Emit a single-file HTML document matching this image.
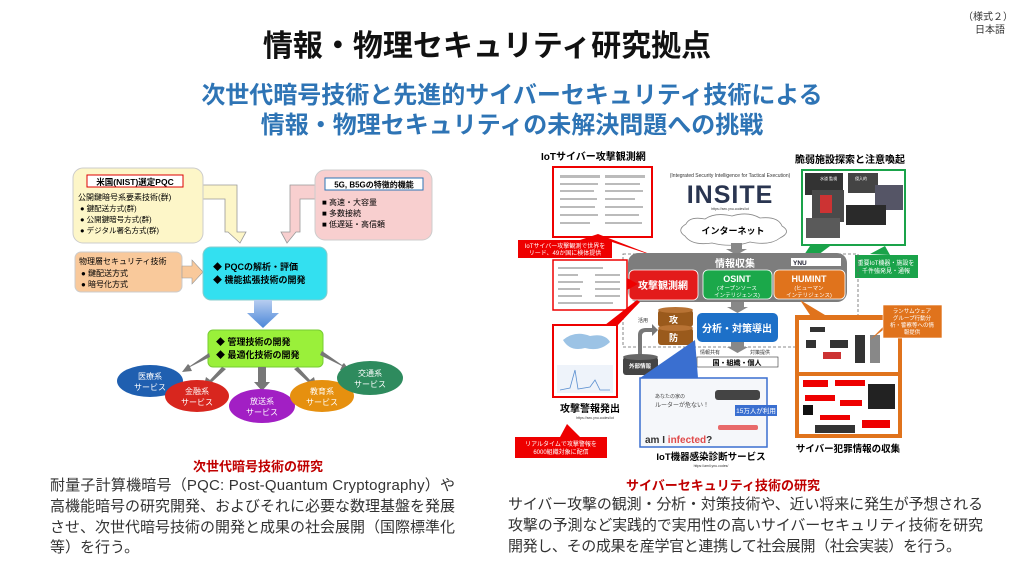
<!DOCTYPE html>
<html><head><meta charset="utf-8"><style>
html,body{margin:0;padding:0;background:#fff;}
svg{display:block;font-family:"Liberation Sans","Noto Sans CJK JP",sans-serif;}
</style></head><body>
<svg width="1024" height="576" viewBox="0 0 1024 576" xmlns="http://www.w3.org/2000/svg">
<defs>
<linearGradient id="ba" x1="0" y1="0" x2="0" y2="1"><stop offset="0" stop-color="#b7cdf0"/><stop offset="1" stop-color="#4a86d8"/></linearGradient>
</defs>
<!-- header -->
<text x="988" y="20" font-size="10" text-anchor="middle" fill="#333">（様式２）</text>
<text x="990" y="33" font-size="10" text-anchor="middle" fill="#333">日本語</text>
<text x="487" y="56" font-size="30" font-weight="bold" text-anchor="middle" fill="#111">情報・物理セキュリティ研究拠点</text>
<text x="512" y="103" font-size="24" font-weight="bold" text-anchor="middle" fill="#2e74b5">次世代暗号技術と先進的サイバーセキュリティ技術による</text>
<text x="512" y="133" font-size="24" font-weight="bold" text-anchor="middle" fill="#2e74b5">情報・物理セキュリティの未解決問題への挑戦</text>

<!-- LEFT DIAGRAM -->
<path d="M203,185 H237 V232 H246 L240,243 L228,232 H225 V199 H203 Z" fill="#fdf6c8" stroke="#999" stroke-width="0.8" transform="translate(0,0)"/>
<path d="M315,185 H290 V232 H281 L287,243 L296,232 H300 V199 H315 Z" fill="#f8cfcf" stroke="#999" stroke-width="0.8"/>
<rect x="73" y="168" width="130" height="75" rx="10" fill="#fdf6c8" stroke="#ccc"/>
<rect x="87" y="175" width="96" height="12" fill="#fff" stroke="#d00"/>
<text x="135" y="185" font-size="8.5" font-weight="bold" text-anchor="middle">米国(NIST)選定PQC</text>
<text x="78" y="200" font-size="8">公開鍵暗号系要素技術(群)</text>
<text x="80" y="211" font-size="7.5">●  鍵配送方式(群)</text>
<text x="80" y="222" font-size="7.5">●  公開鍵暗号方式(群)</text>
<text x="80" y="233" font-size="7.5">●  デジタル署名方式(群)</text>
<rect x="315" y="170" width="117" height="70" rx="10" fill="#f8cfcf" stroke="#ccc"/>
<rect x="325" y="178" width="98" height="12" fill="#fff" stroke="#2e74b5"/>
<text x="374" y="187.5" font-size="8" font-weight="bold" text-anchor="middle">5G, B5Gの特徴的機能</text>
<text x="322" y="205" font-size="8">■  高速・大容量</text>
<text x="322" y="216" font-size="8">■  多数接続</text>
<text x="322" y="227" font-size="8">■  低遅延・高信頼</text>
<rect x="75" y="252" width="107" height="40" rx="6" fill="#f9c99b" stroke="#ccc"/>
<text x="79" y="264" font-size="8">物理層セキュリティ技術</text>
<text x="81" y="276" font-size="8">●  鍵配送方式</text>
<text x="81" y="287" font-size="8">●  暗号化方式</text>
<path d="M182,266 H192 V260 L203,272 L192,284 V278 H182 Z" fill="#f9c99b" stroke="#999" stroke-width="0.6"/>
<rect x="203" y="247" width="124" height="53" rx="8" fill="#33e0f0" stroke="#8cc"/>
<text x="213" y="270" font-size="9" font-weight="bold">◆  PQCの解析・評価</text>
<text x="213" y="283" font-size="9" font-weight="bold">◆ 機能拡張技術の開発</text>
<path d="M254,300 H272 V313 H279 L263,328 L247,313 H254 Z" fill="url(#ba)"/>
<rect x="208" y="330" width="115" height="37" rx="5" fill="#9af03a" stroke="#7c3"/>
<text x="216" y="345" font-size="9" font-weight="bold">◆  管理技術の開発</text>
<text x="216" y="358" font-size="9" font-weight="bold">◆ 最適化技術の開発</text>
<g fill="#777">
<path d="M210,357 L190,367 L192,371 L182,372 L188,364 L190,366 L209,353 Z"/>
<path d="M222,367 L210,380 L206,377 L203,389 L214,384 L212,382 L226,369 Z"/>
<rect x="258" y="367" width="8" height="16"/><path d="M254,382 H270 L262,391 Z"/>
<path d="M298,367 L310,380 L314,377 L317,389 L306,384 L308,382 L294,369 Z"/>
<path d="M320,355 L342,366 L340,370 L350,371 L344,363 L342,365 L322,351 Z"/>
</g>
<ellipse cx="150" cy="381" rx="33" ry="16" fill="#1f5fb0"/>
<text x="150" y="379" font-size="8" fill="#fff" text-anchor="middle">医療系</text><text x="150" y="390" font-size="8" fill="#fff" text-anchor="middle">サービス</text>
<ellipse cx="197" cy="396" rx="32" ry="16" fill="#d8261e"/>
<text x="197" y="394" font-size="8" fill="#fff" text-anchor="middle">金融系</text><text x="197" y="405" font-size="8" fill="#fff" text-anchor="middle">サービス</text>
<ellipse cx="262" cy="406" rx="33" ry="17" fill="#a21fc4"/>
<text x="262" y="404" font-size="8" fill="#fff" text-anchor="middle">放送系</text><text x="262" y="415" font-size="8" fill="#fff" text-anchor="middle">サービス</text>
<ellipse cx="322" cy="396" rx="32" ry="16" fill="#e6900f"/>
<text x="322" y="394" font-size="8" fill="#fff" text-anchor="middle">教育系</text><text x="322" y="405" font-size="8" fill="#fff" text-anchor="middle">サービス</text>
<ellipse cx="370" cy="378" rx="33" ry="17" fill="#2e8b5e"/>
<text x="370" y="376" font-size="8" fill="#fff" text-anchor="middle">交通系</text><text x="370" y="387" font-size="8" fill="#fff" text-anchor="middle">サービス</text>

<!-- LEFT TEXT -->
<text x="258" y="471" font-size="13" font-weight="bold" fill="#c00000" text-anchor="middle">次世代暗号技術の研究</text>
<g font-size="15" fill="#333">
<text x="50" y="490" textLength="405">耐量子計算機暗号（PQC: Post-Quantum Cryptography）や</text>
<text x="50" y="511" textLength="405">高機能暗号の研究開発、およびそれに必要な数理基盤を発展</text>
<text x="50" y="532" textLength="405">させ、次世代暗号技術の開発と成果の社会展開（国際標準化</text>
<text x="50" y="552">等）を行う。</text>
</g>

<!-- RIGHT DIAGRAM -->
<text x="541" y="160" font-size="10" font-weight="bold">IoTサイバー攻撃観測網</text>
<rect x="553" y="167" width="99" height="70" fill="#fff" stroke="#e00" stroke-width="2"/>
<g fill="#bbb"><rect x="560" y="175" width="40" height="3"/><rect x="605" y="175" width="40" height="3"/><rect x="560" y="183" width="38" height="2"/><rect x="605" y="183" width="35" height="2"/><rect x="560" y="190" width="34" height="2"/><rect x="605" y="190" width="38" height="2"/><rect x="560" y="198" width="37" height="2"/><rect x="605" y="198" width="30" height="2"/><rect x="560" y="206" width="35" height="2"/><rect x="605" y="206" width="38" height="2"/><rect x="560" y="214" width="38" height="2"/><rect x="605" y="214" width="34" height="2"/><rect x="560" y="222" width="30" height="2"/><rect x="605" y="222" width="37" height="2"/></g>
<path d="M580,240 L598,234 L660,258 L612,242 Z" fill="#e00"/>
<rect x="518" y="240" width="94" height="18" fill="#e00"/>
<text x="565" y="248" font-size="6" fill="#fff" text-anchor="middle">IoTサイバー攻撃観測で世界を</text>
<text x="565" y="255" font-size="6" fill="#fff" text-anchor="middle">リード、49か国に検体提供</text>
<text x="730" y="177" font-size="5" fill="#333" text-anchor="middle">(Integrated Security Intelligence for Tactical Execution)</text>
<text x="730" y="203" font-size="25" font-weight="bold" fill="#2a3550" text-anchor="middle" letter-spacing="1">INSITE</text>
<text x="730" y="210" font-size="3.5" fill="#333" text-anchor="middle">https://sec.ynu.codes/iot</text>
<text x="850" y="163" font-size="10" font-weight="bold" text-anchor="middle">脆弱施設探索と注意喚起</text>
<rect x="802" y="170" width="103" height="75" fill="#fff" stroke="#1aa34a" stroke-width="2"/>
<rect x="805" y="173" width="38" height="22" fill="#333"/><rect x="848" y="173" width="30" height="20" fill="#444"/><rect x="875" y="185" width="28" height="25" fill="#556"/>
<rect x="812" y="190" width="32" height="32" fill="#4a4a4a"/><rect x="820" y="195" width="12" height="18" fill="#c33"/>
<rect x="846" y="205" width="40" height="20" fill="#2a2a2a"/><rect x="806" y="218" width="34" height="20" fill="#5a5a5a"/>
<text x="820" y="180" font-size="4" fill="#fff">水道 監視</text><text x="855" y="180" font-size="4" fill="#fff">侵入的</text>
<path d="M790,276 L810,246 L830,246 Z" fill="#1aa34a"/>
<path d="M870,254 L885,246 L890,255 Z" fill="#1aa34a"/>
<rect x="855" y="255" width="63" height="23" fill="#1aa34a"/>
<text x="886" y="265" font-size="6" fill="#fff" text-anchor="middle">重要IoT機器・施設を</text>
<text x="886" y="273" font-size="6" fill="#fff" text-anchor="middle">千件強発見・通報</text>
<!-- cloud -->
<path d="M685,236 Q676,230 686,224 Q690,216 705,219 Q715,212 732,216 Q748,211 760,218 Q778,216 782,226 Q792,232 780,238 Q770,246 750,242 Q732,248 712,243 Q692,246 685,236 Z" fill="#fff" stroke="#888" stroke-width="0.8"/>
<text x="733" y="234" font-size="9" font-weight="bold" text-anchor="middle">インターネット</text>
<path d="M731,243 H742 V249 H747 L736.5,255 L726,249 H731 Z" fill="#888"/>
<rect x="623" y="254" width="235" height="93" fill="none" stroke="#666" stroke-dasharray="3,2" stroke-width="0.8"/>
<rect x="628" y="253" width="219" height="49" rx="10" fill="#7d7d7d"/>
<text x="735" y="267" font-size="10" font-weight="bold" fill="#fff" text-anchor="middle">情報収集</text>
<rect x="791" y="258" width="50" height="8" fill="#fff"/><text x="793" y="265" font-size="6.5" font-weight="bold" fill="#223">YNU</text>
<rect x="629" y="270" width="69" height="30" rx="5" fill="#e31b1b" stroke="#fff" stroke-width="0.8"/>
<text x="663" y="289" font-size="10" font-weight="bold" fill="#fff" text-anchor="middle">攻撃観測網</text>
<rect x="703" y="270" width="69" height="29" rx="5" fill="#1ba84a" stroke="#fff" stroke-width="0.8"/>
<text x="737" y="282" font-size="9" font-weight="bold" fill="#fff" text-anchor="middle">OSINT</text>
<text x="737" y="290" font-size="5.5" fill="#fff" text-anchor="middle">(オープンソース</text><text x="737" y="297" font-size="5.5" fill="#fff" text-anchor="middle">インテリジェンス)</text>
<rect x="774" y="270" width="71" height="29" rx="5" fill="#e0731c" stroke="#fff" stroke-width="0.8"/>
<text x="809" y="282" font-size="9" font-weight="bold" fill="#fff" text-anchor="middle">HUMINT</text>
<text x="809" y="290" font-size="5.5" fill="#fff" text-anchor="middle">(ヒューマン</text><text x="809" y="297" font-size="5.5" fill="#fff" text-anchor="middle">インテリジェンス)</text>
<rect x="553" y="260" width="74" height="50" fill="#fff" stroke="#e00" stroke-width="1.5"/>
<g fill="#bbb"><rect x="558" y="267" width="45" height="2"/><rect x="558" y="274" width="20" height="2"/><rect x="595" y="274" width="25" height="2"/><rect x="558" y="281" width="25" height="2"/><rect x="595" y="281" width="25" height="2"/><rect x="558" y="288" width="22" height="2"/><rect x="595" y="288" width="25" height="2"/><rect x="558" y="295" width="24" height="2"/><rect x="595" y="295" width="25" height="2"/><rect x="558" y="302" width="55" height="2"/></g>
<path d="M627,278 L638,284 L627,290 Z" fill="#e00"/>
<path d="M605,325 L637,300 L640,302 L618,325 Z" fill="#e00"/>
<path d="M731,302 H744 V307 H748 L737.5,313 L727,307 H731 Z" fill="#888"/>
<rect x="697" y="313" width="81" height="29" rx="5" fill="#1d70c8"/>
<text x="737" y="332" font-size="10" font-weight="bold" fill="#fff" text-anchor="middle">分析・対策導出</text>
<g>
<rect x="658" y="310" width="35" height="17" rx="3" fill="#9a5a1c"/><ellipse cx="675.5" cy="310" rx="17.5" ry="3" fill="#b87334"/>
<text x="669" y="323" font-size="9" font-weight="bold" fill="#fff">攻</text>
<rect x="658" y="328" width="35" height="17" rx="3" fill="#9a5a1c"/><ellipse cx="675.5" cy="328" rx="17.5" ry="3" fill="#b87334"/>
<text x="669" y="341" font-size="9" font-weight="bold" fill="#fff">防</text>
</g>
<text x="638" y="322" font-size="5" fill="#333">活用</text>
<path d="M638,355 V335 Q638,328 646,328 H652 V324 L658,330 L652,336 V332 H646 Q642,332 642,336 V355 Z" fill="#777"/>
<rect x="623" y="357" width="35" height="18" rx="3" fill="#444"/><ellipse cx="640.5" cy="357" rx="17.5" ry="3" fill="#666"/>
<text x="640" y="368" font-size="5.5" font-weight="bold" fill="#fff" text-anchor="middle">外部情報</text>
<path d="M731,342 H744 V347 H748 L737.5,353 L727,347 H731 Z" fill="#888"/>
<text x="700" y="354" font-size="5" fill="#333">情報共有</text><text x="750" y="354" font-size="5" fill="#333">対策提供</text>
<rect x="697" y="357" width="81" height="10" fill="#fff" stroke="#333" stroke-width="0.6"/>
<text x="737" y="365" font-size="7" font-weight="bold" text-anchor="middle">国・組織・個人</text>
<rect x="553" y="325" width="64" height="72" fill="#fff" stroke="#e00" stroke-width="2"/>
<path d="M563,340 Q575,330 590,336 Q605,333 610,342 Q600,352 585,348 Q570,352 563,340 Z" fill="#9cc3e5"/>
<rect x="557" y="365" width="56" height="28" fill="#eef3fa"/>
<path d="M560,390 L570,388 L575,370 L578,389 L590,387 L595,380 L600,390 L610,390" stroke="#5a8fd0" fill="none" stroke-width="0.8"/>
<text x="590" y="412" font-size="10" font-weight="bold" text-anchor="middle">攻撃警報発出</text>
<text x="595" y="419" font-size="3.5" fill="#333" text-anchor="middle">https://sec.ynu.codes/iot</text>
<path d="M560,437 L567,424 L580,437 Z" fill="#e00"/>
<rect x="515" y="437" width="92" height="21" fill="#e00"/>
<text x="561" y="446" font-size="6" fill="#fff" text-anchor="middle">リアルタイムで攻撃警報を</text>
<text x="561" y="454" font-size="6" fill="#fff" text-anchor="middle">6000組織対象に配信</text>
<path d="M640,378 L695,340 L698,378 Z" fill="#3a6fd0"/>
<rect x="640" y="378" width="127" height="69" fill="#f5f7fa" stroke="#3a6fd0" stroke-width="1.5"/>
<text x="655" y="398" font-size="5" fill="#444">あなたの家の</text>
<text x="655" y="407" font-size="6" fill="#444">ルーターが危ない！</text>
<rect x="715" y="390" width="45" height="10" rx="3" fill="#444"/>
<rect x="735" y="405" width="42" height="11" fill="#3a6fd0"/>
<text x="756" y="413" font-size="6.5" fill="#fff" text-anchor="middle">15万人が利用</text>
<rect x="718" y="425" width="40" height="5" rx="2" fill="#e86a6a"/>
<text x="645" y="443" font-size="10" font-weight="bold" fill="#333">am I <tspan fill="#e04a4a">infected</tspan>?</text>
<text x="711" y="460" font-size="9.5" font-weight="bold" text-anchor="middle">IoT機器感染診断サービス</text>
<text x="711" y="467" font-size="3.5" fill="#333" text-anchor="middle">https://amii.ynu.codes/</text>
<path d="M810,315 L800,300 L825,315 Z" fill="#e0731c"/>
<rect x="795" y="315" width="107" height="123" fill="#e0731c"/>
<rect x="799" y="320" width="99" height="52" fill="#fff"/>
<g fill="#333"><rect x="810" y="327" width="15" height="5"/><rect x="806" y="340" width="10" height="8"/><rect x="830" y="340" width="18" height="8"/><rect x="855" y="335" width="10" height="28"/><rect x="870" y="335" width="10" height="28" fill="#888"/><rect x="823" y="352" width="18" height="7" fill="#c33"/></g>
<rect x="799" y="376" width="99" height="58" fill="#fff"/>
<g fill="#e00"><rect x="803" y="380" width="25" height="7"/><rect x="835" y="380" width="30" height="6"/><rect x="805" y="395" width="30" height="6"/><rect x="840" y="400" width="22" height="6"/><rect x="820" y="415" width="30" height="5"/><rect x="862" y="420" width="28" height="8"/></g>
<rect x="868" y="384" width="27" height="25" fill="#222"/><rect x="803" y="405" width="10" height="10" fill="#111"/><rect x="815" y="425" width="40" height="8" fill="#333"/>
<path d="M885,325 L870,340 L883,330 Z" fill="#e0731c"/>
<rect x="883" y="305" width="59" height="33" fill="#e0731c" stroke="#fff" stroke-width="0.6"/>
<text x="912" y="313" font-size="5.5" fill="#fff" text-anchor="middle">ランサムウェア</text>
<text x="912" y="320" font-size="5.5" fill="#fff" text-anchor="middle">グループ行動分</text>
<text x="912" y="327" font-size="5.5" fill="#fff" text-anchor="middle">析・警察等への情</text>
<text x="912" y="334" font-size="5.5" fill="#fff" text-anchor="middle">報提供</text>
<text x="848" y="452" font-size="9.5" font-weight="bold" text-anchor="middle">サイバー犯罪情報の収集</text>

<!-- RIGHT TEXT -->
<text x="723" y="490" font-size="13" font-weight="bold" fill="#c00000" text-anchor="middle">サイバーセキュリティ技術の研究</text>
<g font-size="15" fill="#333">
<text x="508" y="509" textLength="475">サイバー攻撃の観測・分析・対策技術や、近い将来に発生が予想される</text>
<text x="508" y="530" textLength="475">攻撃の予測など実践的で実用性の高いサイバーセキュリティ技術を研究</text>
<text x="508" y="551" textLength="453">開発し、その成果を産学官と連携して社会展開（社会実装）を行う。</text>
</g>
</svg>
</body></html>
